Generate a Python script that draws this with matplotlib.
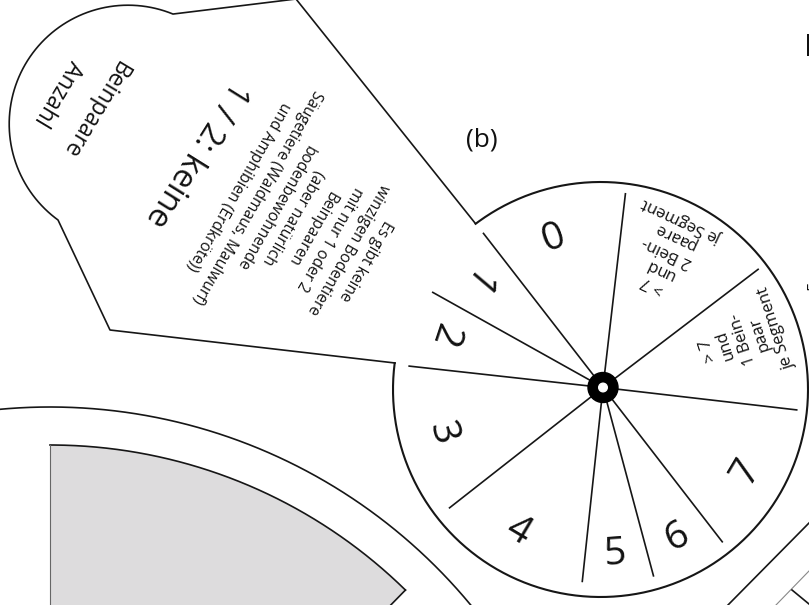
import numpy as np
import matplotlib.pyplot as plt
from matplotlib.patches import Circle, Polygon

plt.rcParams['font.family'] = ['Open Sans', 'DejaVu Sans']
plt.rcParams['text.color'] = '#111'

# wheel (b): segment numbers and the angles (deg, ccw) of the spokes between them
segment_labels = ['0', '1', '2', '3', '4', '5', '6', '7']
segment_edges = [83.4, 127.8, 150.8, 173.7, 218.1, 263.9, 285.0, 307.7, 353.4, 37.3]
label_angles = [109.6, 139.8, 161.6, 195.9, 239.2, 274.1, 296.3, 329.3]
many_legs_1 = ['> 7', 'und', '1 Bein-', 'paar', 'je Segment']
many_legs_2 = ['> 7', 'und', '2 Bein-', 'paare', 'je Segment']

# card on top of the wheel
tab_title = ['Beinpaare', 'Anzahl']
card_title = '1 / 2: keine'
card_text = ['Es gibt keine', 'winzigen Bodentiere', 'mit nur 1 oder 2',
             'Beinpaaren', '(aber natürlich', 'bodenbewohnende',
             'Säugetiere (Waldmaus, Maulwurf)', 'und Amphibien (Erdkröte))']

W, H = 809, 605
fig = plt.figure(figsize=(W / 100, H / 100), dpi=100)
ax = fig.add_axes([0, 0, 1, 1])
ax.set_xlim(0, W)
ax.set_ylim(H, 0)
ax.axis('off')

LW = 1.2
INK = '#161616'


def pt(cx, cy, r, a):
    t = np.radians(a)
    return cx + r * np.cos(t), cy - r * np.sin(t)


def arc(cx, cy, r, a0, a1, n=300):
    t = np.radians(np.linspace(a0, a1, n))
    return cx + r * np.cos(t), cy - r * np.sin(t)


def text_block(lines, cx, cy, rot, step, size):
    r = np.radians(rot)
    ux, uy = -np.sin(r), -np.cos(r)  # text "up" in image coords
    n = len(lines)
    for i, s in enumerate(lines):
        k = (n - 1) / 2 - i
        ax.text(cx + k * step * ux, cy + k * step * uy, s, rotation=rot,
                rotation_mode='anchor', ha='center', va='center', fontsize=size)


# ---- bottom-left disc with grey window
cx0, cy0 = 50, 953
gx, gy = arc(cx0, cy0, 508, 45.6, 90)
ax.add_patch(Polygon(np.column_stack([np.r_[cx0, gx], np.r_[cy0, gy]]),
                     closed=True, facecolor='#dddcdd', edgecolor='none'))
ax.plot(gx, gy, color=INK, lw=LW)
ax.plot([50, 50], [445, 610], color='#666', lw=0.8)
x0, y0 = pt(cx0, cy0, 508, 45.6)
x1, y1 = pt(cx0, cy0, 470, 45.6)
ax.plot([x0, x1], [y0, y1], color=INK, lw=LW)
ox, oy = arc(cx0, cy0, 546, 39.6, 95.3)
ax.plot(ox, oy, color=INK, lw=LW)

# ---- bottom-right pieces of the next disc
ax.plot([809, 728], [523, 605], color=INK, lw=LW)
ax.plot([809, 776], [571, 605], color='#888', lw=0.8)
ax.plot([792, 809], [590, 604], color=INK, lw=LW)

# ---- card outline
tx, ty = arc(128, 124, 118.8, 67.75, 233.9)
px = np.r_[475, 296, tx, 110, 395]
py = np.r_[223, -1, ty, 330, 363]
ax.plot(px, py, color=INK, lw=LW)

# ---- wheel
wx, wy = arc(600.5, 389.5, 207.5, 172.7, 487)
ax.plot(wx, wy, color=INK, lw=1.5)
hx, hy = 603, 387.5
for a in segment_edges:
    xa, ya = pt(hx, hy, 14, a)
    xb, yb = pt(hx, hy, 195, a)
    ax.plot([xa, xb], [ya, yb], color=INK, lw=LW)
ax.add_patch(Circle((hx, hy), 15, color='black', zorder=5))
ax.add_patch(Circle((hx, hy), 4.3, color='white', zorder=6))

for lab, a in zip(segment_labels, label_angles):
    x, y = pt(hx, hy, 167, a)
    ax.text(x, y, lab, rotation=a + 90, rotation_mode='anchor',
            ha='center', va='center', fontsize=28)

text_block(many_legs_2, 667.5, 252.5, 155, 18, 12)
text_block(many_legs_1, 742.5, 339, 108, 18, 12)

# ---- card texts
ax.text(93.5, 109, tab_title[0], rotation=-121, rotation_mode='anchor',
        ha='center', va='center', fontsize=16.5)
ax.text(58, 93, tab_title[1], rotation=-121, rotation_mode='anchor',
        ha='center', va='center', fontsize=16.5)
ax.text(196, 154, card_title, rotation=-122, rotation_mode='anchor',
        ha='center', va='center', fontsize=23.5)
text_block(card_text, 302, 223, -120, 21, 11.2)

ax.text(481.7, 140, '(b)', ha='center', va='center', fontsize=19)
ax.text(804, 48, 'E', ha='left', va='center', fontsize=22)
ax.text(807, 285, '5', rotation=90, ha='left', va='center', fontsize=12)

fig.savefig('out.png', dpi=100)
